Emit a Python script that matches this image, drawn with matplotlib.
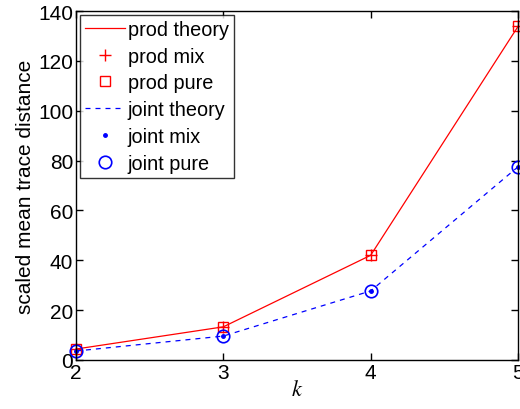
import matplotlib
matplotlib.use('Agg')
import matplotlib.pyplot as plt

k = [2, 3, 4, 5]
prod_theory = [4.4, 13.3, 42.0, 133.8]
prod_mix = [4.4, 13.3, 42.0, 133.8]
prod_pure = [4.4, 13.3, 42.0, 133.8]
joint_theory = [3.6, 9.6, 27.7, 77.5]
joint_mix = [3.6, 9.6, 27.7, 77.5]
joint_pure = [3.6, 9.6, 27.7, 77.5]

plt.rcParams['font.family'] = ['Liberation Sans', 'DejaVu Sans']
plt.rcParams['mathtext.fontset'] = 'stix'

fig = plt.figure(figsize=(5.2, 4.1), dpi=100)
ax = fig.add_axes([76/520, 1 - 361/410, (518-76)/520, (361-12)/410])

ax.plot(k, prod_theory, '-', color='red', lw=0.9, label='prod theory', clip_on=False)
ax.plot(k, prod_mix, '+', color='red', ms=8, mew=1.0, ls='none', label='prod mix', clip_on=False)
ax.plot(k, prod_pure, 's', color='red', mfc='none', ms=7, mew=1.0, ls='none', label='prod pure', clip_on=False)
ax.plot(k, joint_theory, '--', color='blue', lw=0.9, dashes=(4, 4), label='joint theory', clip_on=False)
ax.plot(k, joint_mix, '.', color='blue', ms=5, ls='none', label='joint mix', clip_on=False)
ax.plot(k, joint_pure, 'o', color='blue', mfc='none', ms=9, mew=1.2, ls='none', label='joint pure', clip_on=False)

ax.set_xlim(2, 5)
ax.set_ylim(0, 140)
ax.set_xticks([2, 3, 4, 5])
ax.set_yticks(range(0, 141, 20))
ax.tick_params(direction='in', top=True, right=True, labelsize=15, length=5, width=1, pad=2)
for s in ax.spines.values():
    s.set_linewidth(1)
ax.set_xlabel('$k$', fontsize=16, labelpad=-2)
ax.set_ylabel('scaled mean trace distance', fontsize=15, labelpad=2)

leg = ax.legend(loc='upper left', fontsize=14.3, frameon=True, fancybox=False,
                edgecolor='black', borderpad=0.25, labelspacing=0.39,
                handlelength=2.0, handletextpad=0.15, borderaxespad=0.2)
leg.get_frame().set_linewidth(1)

fig.savefig('out.png', dpi=100)
